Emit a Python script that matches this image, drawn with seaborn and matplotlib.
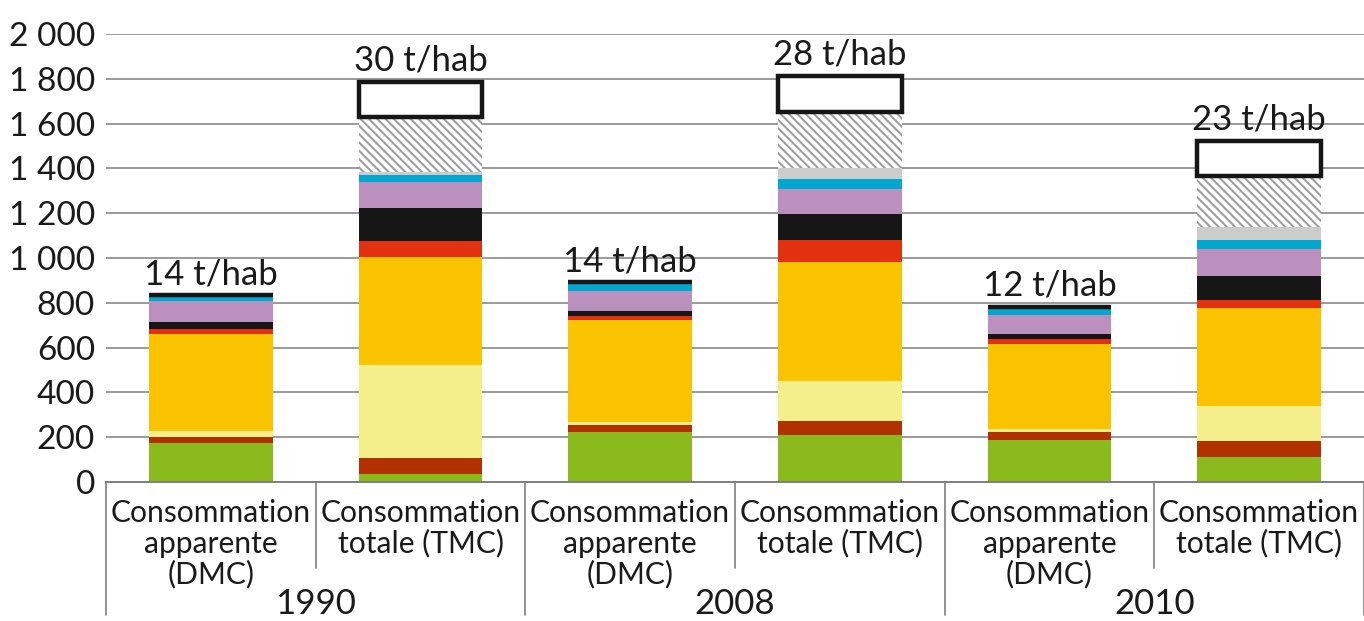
import numpy as np
import pandas as pd
import seaborn as sns
import matplotlib.pyplot as plt
from matplotlib import font_manager as fm
from matplotlib.textpath import TextPath
from matplotlib.lines import Line2D

# barres : DMC / TMC pour 1990, 2008, 2010
barres = ["1990 DMC", "1990 TMC", "2008 DMC", "2008 TMC", "2010 DMC", "2010 TMC"]
annees = ["1990", "2008", "2010"]
etiquettes = [["Consommation", "apparente", "(DMC)"], ["Consommation", "totale (TMC)"]] * 3
par_hab = ["14 t/hab", "30 t/hab", "14 t/hab", "28 t/hab", "12 t/hab", "23 t/hab"]

# segments empilés (millions de tonnes)
vert = [172, 37, 225, 210, 189, 113]
rouge_fonce = [31, 72, 29, 62, 32, 71]
jaune_pale = [26, 413, 15, 180, 17, 155]
orange = [430, 481, 454, 531, 379, 436]
rouge = [23, 71, 17, 99, 21, 37]
noir = [34, 149, 24, 114, 21, 109]
violet = [91, 118, 89, 112, 88, 120]
cyan = [20, 29, 34, 45, 30, 39]
bleu_fonce = [6, 0, 5, 0, 6, 0]
gris = [0, 15, 0, 50, 0, 60]
hachure = [0, 246, 0, 250, 0, 226]
cadre = [0, 156, 0, 161, 0, 156]

couches = [
    (vert, dict(color="#8aba1c")),
    (rouge_fonce, dict(color="#b23100")),
    (jaune_pale, dict(color="#f4ef8a")),
    (orange, dict(color="#f9c300")),
    (rouge, dict(color="#e3310f")),
    (noir, dict(color="#161616")),
    (violet, dict(color="#bb8fbe")),
    (cyan, dict(color="#00a8d0")),
    (bleu_fonce, dict(color="#2b3a8f")),
    (gris, dict(color="#cccccc")),
    (hachure, dict(color="white", edgecolor="#9a9a9a", hatch="\\" * 4, linewidth=0)),
    (cadre, dict(color="white", edgecolor="#161616", linewidth=3.2)),
]

sns.set_style("white")
plt.rcParams["font.family"] = ["Lato", "DejaVu Sans"]
plt.rcParams["hatch.linewidth"] = 1.4

# taille de police pour une hauteur d'encre donnée (px, à 100 dpi)
prop = fm.FontProperties(family=plt.rcParams["font.family"])
def taille(texte, hauteur_px):
    h = TextPath((0, 0), texte, size=20, prop=prop).get_extents().height
    return 20 * hauteur_px / (h * 100 / 72)

fs_cat = taille("CH", 22)
fs_tick = taille("2000", 24.5)
fs_an = taille("1990", 25.5)
fs_hab = taille("30", 25.5)

fig = plt.figure(figsize=(13.64, 6.21), dpi=100)
ax = fig.add_axes([106 / 1364, (621 - 482) / 621, 1 - 106 / 1364, 448 / 621])

bas = np.zeros(len(barres))
for valeurs, style in couches:
    df = pd.DataFrame({"barre": barres, "valeur": valeurs})
    kw = dict(style)
    kw.setdefault("edgecolor", "none")
    kw.setdefault("linewidth", 0)
    sns.barplot(data=df, x="barre", y="valeur", order=barres, bottom=bas,
                width=0.59, ax=ax, errorbar=None, saturation=1, **kw)
    bas = bas + np.array(valeurs)

# étiquettes t/hab au-dessus des barres
for i, txt in enumerate(par_hab):
    ax.annotate(txt, (i, bas[i]), xytext=(0, 8), textcoords="offset points",
                ha="center", va="baseline", fontsize=fs_hab, color="#1a1a1a")

ax.set_xlim(-0.5, 5.5)
ax.set_ylim(0, 2000)
ticks = np.arange(0, 2001, 200)
ax.set_yticks(ticks)
ax.set_yticklabels([f"{t:,}".replace(",", " ") for t in ticks])
ax.tick_params(axis="y", length=0, pad=8, labelsize=fs_tick, labelcolor="#1a1a1a")
ax.set_xticks([])
ax.set_xlabel("")
ax.set_ylabel("")
ax.yaxis.grid(True, color="#7f7f7f", linewidth=1.1)
ax.set_axisbelow(True)
for s in ["left", "right", "top"]:
    ax.spines[s].set_visible(False)
ax.spines["bottom"].set_color("#7f7f7f")
ax.spines["bottom"].set_linewidth(1.4)

# libellés de catégories, ligne par ligne (lignes de base en px depuis le haut)
trans = ax.get_xaxis_transform()
def y_axe(px):
    return (482 - px) / 448

lignes_base = [522.5, 552.5, 583]
for i, lignes in enumerate(etiquettes):
    for lg, yb in zip(lignes, lignes_base):
        ax.text(i, y_axe(yb), lg, transform=trans, ha="center", va="baseline",
                fontsize=fs_cat, color="#1a1a1a")
for j, an in enumerate(annees):
    ax.text(2 * j + 0.5, y_axe(614), an, transform=trans, ha="center",
            va="baseline", fontsize=fs_an, color="#1a1a1a")

# séparateurs de l'axe catégoriel
for x in [-0.5, 1.5, 3.5, 5.5]:
    ax.add_line(Line2D([x, x], [0, y_axe(615)], transform=trans, color="#7f7f7f",
                       linewidth=1.2, clip_on=False))
for x in [0.5, 2.5, 4.5]:
    ax.add_line(Line2D([x, x], [0, y_axe(568)], transform=trans, color="#7f7f7f",
                       linewidth=1.2, clip_on=False))

fig.savefig("out.png", dpi=100)
